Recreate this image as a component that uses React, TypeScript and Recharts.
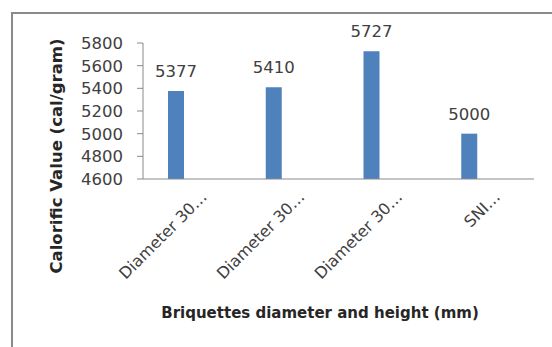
import { BarChart, Bar, XAxis, YAxis, LabelList } from 'recharts';

const categories = ['Diameter 30…', 'Diameter 30…', 'Diameter 30…', 'SNI…'];
const calorific = [5377, 5410, 5727, 5000];
const yTicks = [4600, 4800, 5000, 5200, 5400, 5600, 5800];

const data = categories.map((name, i) => ({ name, value: calorific[i] }));

const FONT = '"DejaVu Sans", sans-serif';

const CategoryTick = (props: any) => {
  const { x, y, payload } = props;
  const ax = x + 32;
  const ay = y + 11;
  return (
    <text
      x={ax}
      y={ay}
      textAnchor="end"
      transform={`rotate(-45, ${ax}, ${ay})`}
      fontSize={16}
      fontFamily={FONT}
      fill="#404040"
    >
      {payload.value}
    </text>
  );
};

export default function App() {
  return (
    <div style={{ position: 'fixed', left: 0, top: 0, width: 552, height: 347, overflow: 'hidden', background: '#fff' }}>
      <div
        style={{
          position: 'absolute',
          left: 11,
          top: 12,
          width: 600,
          height: 400,
          borderTop: '2px solid #8a8a8a',
          borderLeft: '2px solid #8a8a8a',
        }}
      />
      <div style={{ position: 'absolute', left: 0, top: 0 }}>
        <BarChart width={552} height={347} data={data} margin={{ top: 43, right: 18, bottom: 0, left: 0 }}>
          <XAxis
            dataKey="name"
            height={168}
            interval={0}
            tickLine={false}
            padding={{ left: -16, right: 16 }}
            axisLine={{ stroke: '#8a8a8a' }}
            tick={<CategoryTick />}
            label={{
              content: () => (
                <text x={320} y={318} textAnchor="middle" fontSize={15} fontWeight="bold" fontFamily={FONT} fill="#262626">
                  Briquettes diameter and height (mm)
                </text>
              ),
            }}
          />
          <YAxis
            width={143}
            domain={[4600, 5800]}
            ticks={yTicks}
            interval={0}
            tickSize={6}
            tickMargin={14}
            tickLine={{ stroke: '#8a8a8a' }}
            axisLine={{ stroke: '#8a8a8a' }}
            tick={{ fontSize: 16.5, fontFamily: FONT, fill: '#404040' }}
            label={{
              content: () => (
                <text
                  x={62}
                  y={156}
                  textAnchor="middle"
                  transform="rotate(-90, 62, 156)"
                  fontSize={16.5}
                  fontWeight="bold"
                  fontFamily={FONT}
                  fill="#262626"
                >
                  Calorific Value (cal/gram)
                </text>
              ),
            }}
          />
          <Bar dataKey="value" fill="#4f81bd" barSize={16} isAnimationActive={false}>
            <LabelList dataKey="value" position="top" offset={14} fontSize={16.5} fontFamily={FONT} fill="#404040" />
          </Bar>
        </BarChart>
      </div>
    </div>
  );
}
